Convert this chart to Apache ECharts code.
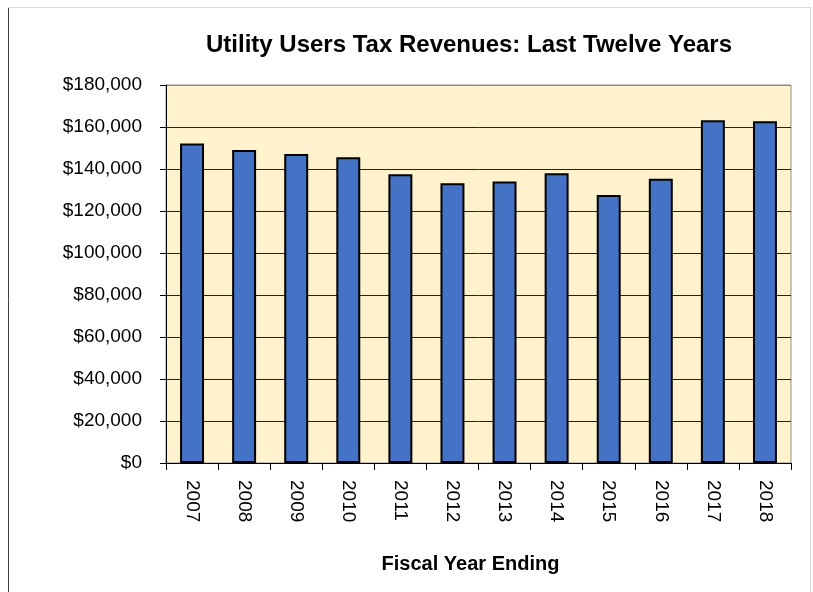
<!DOCTYPE html>
<html>
<head>
<meta charset="utf-8">
<script src="https://cdn.jsdelivr.net/npm/echarts@6/dist/echarts.min.js"></script>
<style>html,body{margin:0;padding:0;background:#fff;}#c{width:813px;height:592px;}</style>
</head>
<body>
<div id="c"></div>
<script>
var years = ['2007','2008','2009','2010','2011','2012','2013','2014','2015','2016','2017','2018'];
var revenues = [152200, 149000, 147100, 145600, 137500, 133200, 134000, 138000, 127600, 135400, 163200, 162700];
var yMin = 0, yMax = 180000, yStep = 20000;

var chart = echarts.init(document.getElementById('c'), null, {renderer: 'canvas'});
var gridColors = [];
for (var i = 0; i <= (yMax - yMin) / yStep; i++) gridColors.push('#222222');
gridColors[gridColors.length - 1] = '#8c8c8c';

chart.setOption({
  backgroundColor: '#ffffff',
  animation: false,
  title: {
    text: 'Utility Users Tax Revenues: Last Twelve Years',
    left: 464, top: 28, textAlign: 'center',
    textStyle: {fontFamily: 'Liberation Sans, Arial', fontWeight: 'bold', fontSize: 24, color: '#000'}
  },
  graphic: [
    {type: 'line', shape: {x1: 8.5, y1: 7, x2: 8.5, y2: 592}, style: {stroke: '#404040', lineWidth: 1}},
    {type: 'line', shape: {x1: 8, y1: 7.5, x2: 811, y2: 7.5}, style: {stroke: '#d9d9d9', lineWidth: 1}},
    {type: 'line', shape: {x1: 810.5, y1: 7, x2: 810.5, y2: 592}, style: {stroke: '#d9d9d9', lineWidth: 1}}
  ],
  grid: {
    left: 166, right: 22, top: 85, bottom: 129,
    show: true, backgroundColor: '#FFF2CC', borderColor: '#8c8c8c', borderWidth: 1
  },
  xAxis: {
    type: 'category', data: years,
    name: 'Fiscal Year Ending', nameLocation: 'middle', nameGap: 91,
    nameTextStyle: {fontFamily: 'Liberation Sans, Arial', fontWeight: 'bold', fontSize: 20, color: '#000', padding: [0, 16, 0, 0]},
    axisLine: {lineStyle: {color: '#000', width: 1}},
    axisTick: {show: true, length: 7, lineStyle: {color: '#000'}},
    axisLabel: {rotate: -90, margin: 17, fontFamily: 'Liberation Sans, Arial', fontSize: 19, color: '#000'}
  },
  yAxis: {
    type: 'value', min: yMin, max: yMax, interval: yStep,
    axisLine: {show: true, lineStyle: {color: '#000', width: 1}},
    axisTick: {show: true, length: 6, lineStyle: {color: '#000'}},
    axisLabel: {margin: 24, fontFamily: 'Liberation Sans, Arial', fontSize: 19, color: '#000',
      formatter: function (v) { return '$' + v.toLocaleString('en-US'); }},
    splitLine: {show: true, lineStyle: {color: gridColors, width: 1}}
  },
  series: [{
    type: 'bar', data: revenues, barWidth: '46%',
    itemStyle: {color: '#4472C4', borderColor: '#000', borderWidth: 2}
  }]
});
</script>
</body>
</html>
